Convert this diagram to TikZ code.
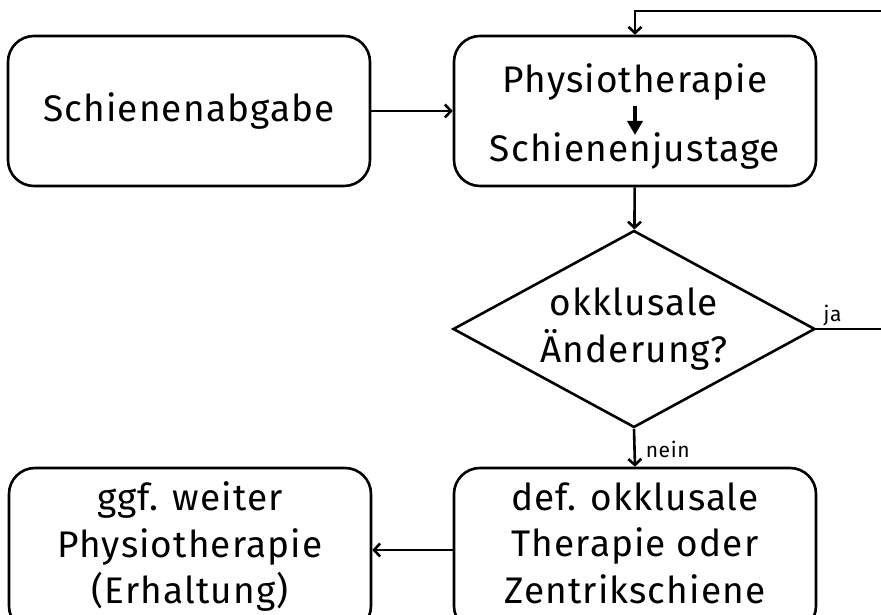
\documentclass[tikz,border=0pt]{standalone}
\usepackage{fontspec}
\setmainfont[LetterSpace=3]{Fira Sans}
\usepackage{tikz}
\usetikzlibrary{arrows.meta,shapes.geometric}

\begin{document}
\begin{tikzpicture}[->,>={Straight Barb[length=6pt,width=13pt]},x=1pt,y=1pt,line width=2.6pt,font=\fontsize{37}{46.5}\selectfont]
	\tikzstyle{every node}=[align=center]
	\tikzstyle{box}=[draw,rounded corners=26pt,minimum width=362pt,minimum height=150pt]
	\tikzstyle{hohebox}=[box,minimum height=164pt,text depth=14pt]
	\tikzstyle{frage}=[draw,diamond,aspect=1.84,inner sep=0pt,minimum width=362pt,minimum height=197pt]
	\tikzstyle{klein}=[font=\fontsize{21}{24}\selectfont,inner sep=0pt]
	\useasboundingbox (0,0) rectangle (881,615);
	\node[box]     (abgabe)    at (189,504) {Schienenabgabe};
	\node[box]     (physio)    at (635,504) {};
	\node[anchor=base,inner sep=0pt] (phys1) at (635,522) {Physiotherapie};
	\node[anchor=base,inner sep=0pt] (phys2) at (635,453) {Schienenjustage};
	\node[frage]   (aenderung) at (634,286) {okklusale\\Änderung?};
	\node[hohebox] (therapie)  at (635,65)  {def. okklusale\\Therapie oder\\Zentrikschiene};
	\node[hohebox] (erhaltung) at (190,65)  {ggf. weiter\\Physiotherapie\\(Erhaltung)};
	\coordinate (rechts) at (895,604);
	\path (abgabe)  edge (physio);
	\draw[-{Triangle[length=14pt,width=15pt]},line width=3.6pt] ([yshift=-13pt]phys1.base) -- ([yshift=27pt]phys2.base);
	\path (physio)  edge (aenderung);
	\draw (aenderung.south) -- node[klein,anchor=base west,xshift=10pt,yshift=-10pt] {nein} (therapie.north);
	\path (therapie) edge (erhaltung);
	\draw (aenderung.east) -- node[klein,pos=0,anchor=base west,xshift=6pt,yshift=7pt] {ja} (aenderung.east -| rechts) -- (rechts) -| (physio.north);
\end{tikzpicture}
\end{document}
